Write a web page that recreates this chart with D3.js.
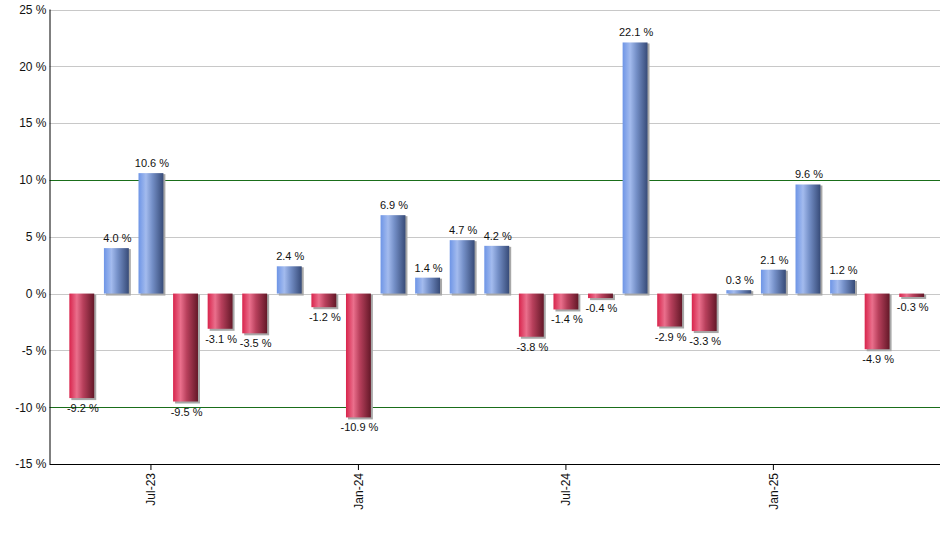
<!DOCTYPE html>
<html><head><meta charset="utf-8">
<script src="https://cdn.jsdelivr.net/npm/d3@7"></script>
<style>body{margin:0;background:#fff}svg{display:block}text{font-family:"Liberation Sans",Arial,sans-serif}</style>
</head><body><svg id="c" width="940" height="550"></svg>
<script>
const months = ["May-23","Jun-23","Jul-23","Aug-23","Sep-23","Oct-23","Nov-23","Dec-23","Jan-24","Feb-24","Mar-24","Apr-24","May-24","Jun-24","Jul-24","Aug-24","Sep-24","Oct-24","Nov-24","Dec-24","Jan-25","Feb-25","Mar-25","Apr-25","May-25"];
const values = [-9.2,4.0,10.6,-9.5,-3.1,-3.5,2.4,-1.2,-10.9,6.9,1.4,4.7,4.2,-3.8,-1.4,-0.4,22.1,-2.9,-3.3,0.3,2.1,9.6,1.2,-4.9,-0.3];
const yTicks = [-15,-10,-5,0,5,10,15,20,25];
const xTickLabels = ["Jul-23","Jan-24","Jul-24","Jan-25"];

const svg = d3.select("#c");
const plotLeft = 49.5, plotBottom = 464, plotTop = 9.5;
const x = d3.scaleBand().domain(months).range([64.5, 929]).paddingInner(0.28).paddingOuter(0.14);
const y = d3.scaleLinear().domain([-15, 25]).range([plotBottom, plotTop]);

const defs = svg.append("defs");
function grad(id, stops){
  const g = defs.append("linearGradient").attr("id", id).attr("x1","0").attr("x2","1").attr("y1","0").attr("y2","0");
  stops.forEach(s => g.append("stop").attr("offset", s[0]).attr("stop-color", s[1]));
}
grad("gb", [[0,"#6e95e6"],[0.3,"#a3bbee"],[0.55,"#7590c8"],[1,"#374b78"]]);
grad("gr", [[0,"#d8244c"],[0.3,"#ea6f8c"],[0.55,"#b8405c"],[1,"#641828"]]);

// gridlines
svg.append("g").selectAll("line").data(yTicks.filter(t => t !== -15)).join("line")
  .attr("x1", plotLeft).attr("x2", 940)
  .attr("y1", d => Math.round(y(d)) + 0.5).attr("y2", d => Math.round(y(d)) + 0.5)
  .attr("stroke", d => Math.abs(d) === 10 ? "#1a6e1a" : "#c8c8c8")
  .attr("stroke-width", 1);

// shadows
const bars = svg.append("g");
bars.selectAll("rect.sh").data(values).join("rect").attr("class","sh")
  .attr("x", (d,i) => x(months[i]) + 2)
  .attr("y", d => Math.min(y(d), y(0)) + 1)
  .attr("width", x.bandwidth())
  .attr("height", d => Math.abs(y(d) - y(0)) + 1)
  .attr("fill", "#a8a8a8");
bars.selectAll("rect.b").data(values).join("rect").attr("class","b")
  .attr("x", (d,i) => x(months[i]))
  .attr("y", d => Math.min(y(d), y(0)))
  .attr("width", x.bandwidth())
  .attr("height", d => Math.abs(y(d) - y(0)))
  .attr("fill", d => d >= 0 ? "url(#gb)" : "url(#gr)");

// value labels
svg.append("g").selectAll("text").data(values).join("text")
  .attr("x", (d,i) => x(months[i]) + x.bandwidth()/2 + 1)
  .attr("y", d => d >= 0 ? y(d) - 6 : y(d) + 14)
  .attr("text-anchor", "middle")
  .attr("font-size", 11)
  .attr("fill", "#111")
  .text(d => d.toFixed(1) + " %");

// y axis
const ya = svg.append("g").attr("transform", `translate(${plotLeft},0)`)
  .call(d3.axisLeft(y).tickValues(yTicks).tickSize(0).tickPadding(3).tickFormat(d => d + " %"));
ya.select(".domain").attr("stroke", "#000").attr("d", `M0.5,${plotTop}V${plotBottom}`);
ya.selectAll("text").attr("font-size", 12).attr("fill", "#111").attr("font-family", '"Liberation Sans",Arial,sans-serif');

// x axis
const xa = svg.append("g").attr("transform", `translate(0,${plotBottom})`)
  .call(d3.axisBottom(x).tickValues(xTickLabels).tickSize(6).tickSizeOuter(0).tickPadding(3));
xa.select(".domain").attr("stroke", "#000").attr("d", `M${plotLeft},0.5H940`);
xa.selectAll(".tick line").attr("stroke", "#000");
xa.selectAll("text")
  .attr("font-size", 12).attr("fill", "#111").attr("font-family", '"Liberation Sans",Arial,sans-serif')
  .attr("transform", "rotate(-90)")
  .attr("text-anchor", "end")
  .attr("dy", "0.35em")
  .attr("x", -9).attr("y", 0);
</script></body></html>
